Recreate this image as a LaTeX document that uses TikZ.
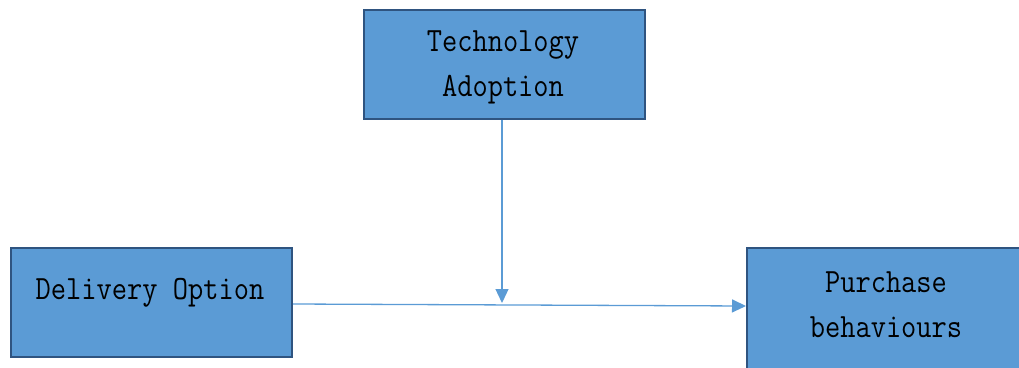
\documentclass[tikz,border=0pt]{standalone}
\usepackage{fontspec}
\newfontfamily\boxfont{Latin Modern Mono}[FakeStretch=0.87]
\usetikzlibrary{arrows.meta}
\definecolor{boxfill}{HTML}{5B9BD5}
\definecolor{boxline}{HTML}{2F5480}
\definecolor{arrowc}{HTML}{5B9BD5}
\tikzset{
  box/.style={draw=boxline, line width=2.2pt, fill=boxfill, minimum width=281pt, minimum height=109pt, inner sep=0pt, anchor=north west},
  boxtext/.style={font=\boxfont\fontsize{34}{45}\selectfont, align=center, text=black, inner sep=0pt},
  conn/.style={draw=arrowc, line width=1.3pt, -{Triangle[length=14pt,width=13pt]}}
}
\begin{document}
\begin{tikzpicture}[x=1pt,y=-1pt]
\useasboundingbox (0,0) rectangle (1019,367);
\begin{scope}
\clip (0,0) rectangle (1019,367);
\node[box] (tech) at (363,9) {};
\node[box] (deliv) at (10,247) {};
\node[box, minimum height=130pt] (purch) at (746,247) {};
\node[boxtext] (techt) at (503,67) {Technology\\Adoption};
\node[boxtext] (delivt) at (150,293) {Delivery Option};
\node[boxtext] (purcht) at (886,305) {Purchase\\behaviours};
\coordinate (mid) at (502,303);
\draw[conn] (tech.south -| mid) -- (mid);
\draw[conn] (deliv.east |- 0,304) -- (746,306);
\end{scope}
\end{tikzpicture}
\end{document}
